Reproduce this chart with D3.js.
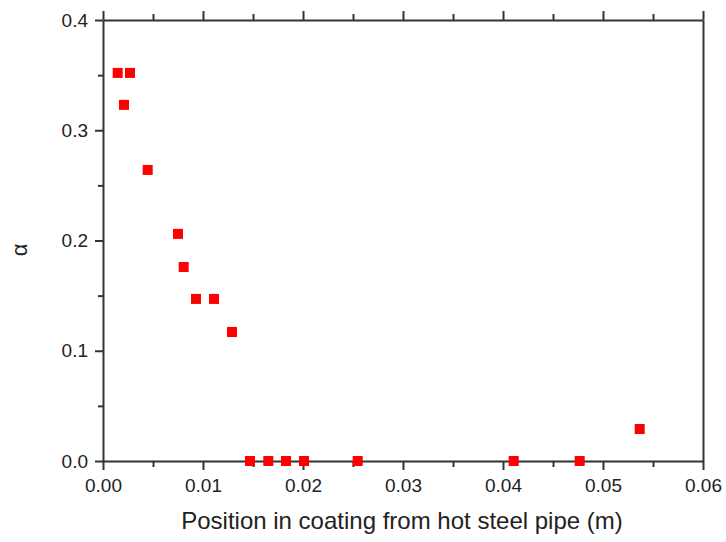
<!DOCTYPE html>
<html><head><meta charset="utf-8">
<script src="https://cdn.jsdelivr.net/npm/d3@7"></script>
<style>body{margin:0;background:#fff}svg{display:block}text{font-family:"Liberation Sans",Arial,sans-serif;fill:#222}</style>
</head><body><svg id="c" width="726" height="542"></svg>
<script>
const xValues = [0.00147, 0.0027, 0.0021, 0.00447, 0.0075, 0.00807, 0.0093, 0.0111, 0.0129, 0.0147, 0.01653, 0.0183, 0.0201, 0.02547, 0.04107, 0.04767, 0.05367];
const alphaValues = [0.352, 0.352, 0.323, 0.264, 0.206, 0.176, 0.147, 0.147, 0.117, 0, 0, 0, 0, 0, 0, 0, 0.029];
const xTicks = [0, 0.01, 0.02, 0.03, 0.04, 0.05, 0.06];
const yTicks = [0, 0.1, 0.2, 0.3, 0.4];
const xLabel = "Position in coating from hot steel pipe (m)";
const yLabel = "α";

const svg = d3.select("#c");
const L = 103, R = 703, T = 20, B = 461;
const x = d3.scaleLinear().domain([0, 0.06]).range([L, R]);
const y = d3.scaleLinear().domain([0, 0.4]).range([B, T]);
const minorX = d3.range(0.005, 0.06, 0.01);
const minorY = d3.range(0.05, 0.4, 0.1);
const ink = "#333";

function style(g){ g.selectAll("path,line").attr("stroke", ink).attr("stroke-width", 2); g.selectAll("text").style("font-size","19px").attr("fill", "#222"); }

// bottom
svg.append("g").attr("transform",`translate(0,${B})`)
  .call(d3.axisBottom(x).tickValues(xTicks).tickFormat(d3.format(".2f")).tickSize(9).tickSizeOuter(0).tickPadding(9)).call(style);
svg.append("g").attr("transform",`translate(0,${B})`).call(d3.axisBottom(x).tickValues(minorX).tickFormat("").tickSize(6).tickSizeOuter(0)).call(g=>g.select(".domain").remove()).call(style);
// top
svg.append("g").attr("transform",`translate(0,${T})`).call(d3.axisTop(x).tickValues(xTicks).tickFormat("").tickSize(9).tickSizeOuter(0)).call(style);
svg.append("g").attr("transform",`translate(0,${T})`).call(d3.axisTop(x).tickValues(minorX).tickFormat("").tickSize(6).tickSizeOuter(0)).call(g=>g.select(".domain").remove()).call(style);
// left
svg.append("g").attr("transform",`translate(${L},0)`).call(d3.axisLeft(y).tickValues(yTicks).tickFormat(d3.format(".1f")).tickSize(8).tickSizeOuter(0).tickPadding(7)).call(style);
svg.append("g").attr("transform",`translate(${L},0)`).call(d3.axisLeft(y).tickValues(minorY).tickFormat("").tickSize(5).tickSizeOuter(0)).call(g=>g.select(".domain").remove()).call(style);
// right (line only)
svg.append("g").attr("transform",`translate(${R},0)`).call(d3.axisRight(y).tickValues([]).tickSizeOuter(0)).call(style);

// points
const s = 10;
svg.append("g").selectAll("rect").data(xValues.map((v,i)=>[v, alphaValues[i]])).join("rect")
  .attr("x", d=>x(d[0]) - s/2).attr("y", d=>y(d[1]) - s/2)
  .attr("width", s).attr("height", s).attr("fill", "#ff0000");

svg.append("text").attr("x", 402).attr("y", 529).attr("text-anchor","middle").style("font-size","24px").text(xLabel);
svg.append("text").attr("transform",`translate(27,250) rotate(-90)`).attr("text-anchor","middle").style("font-size","22px").text(yLabel);
</script></body></html>
